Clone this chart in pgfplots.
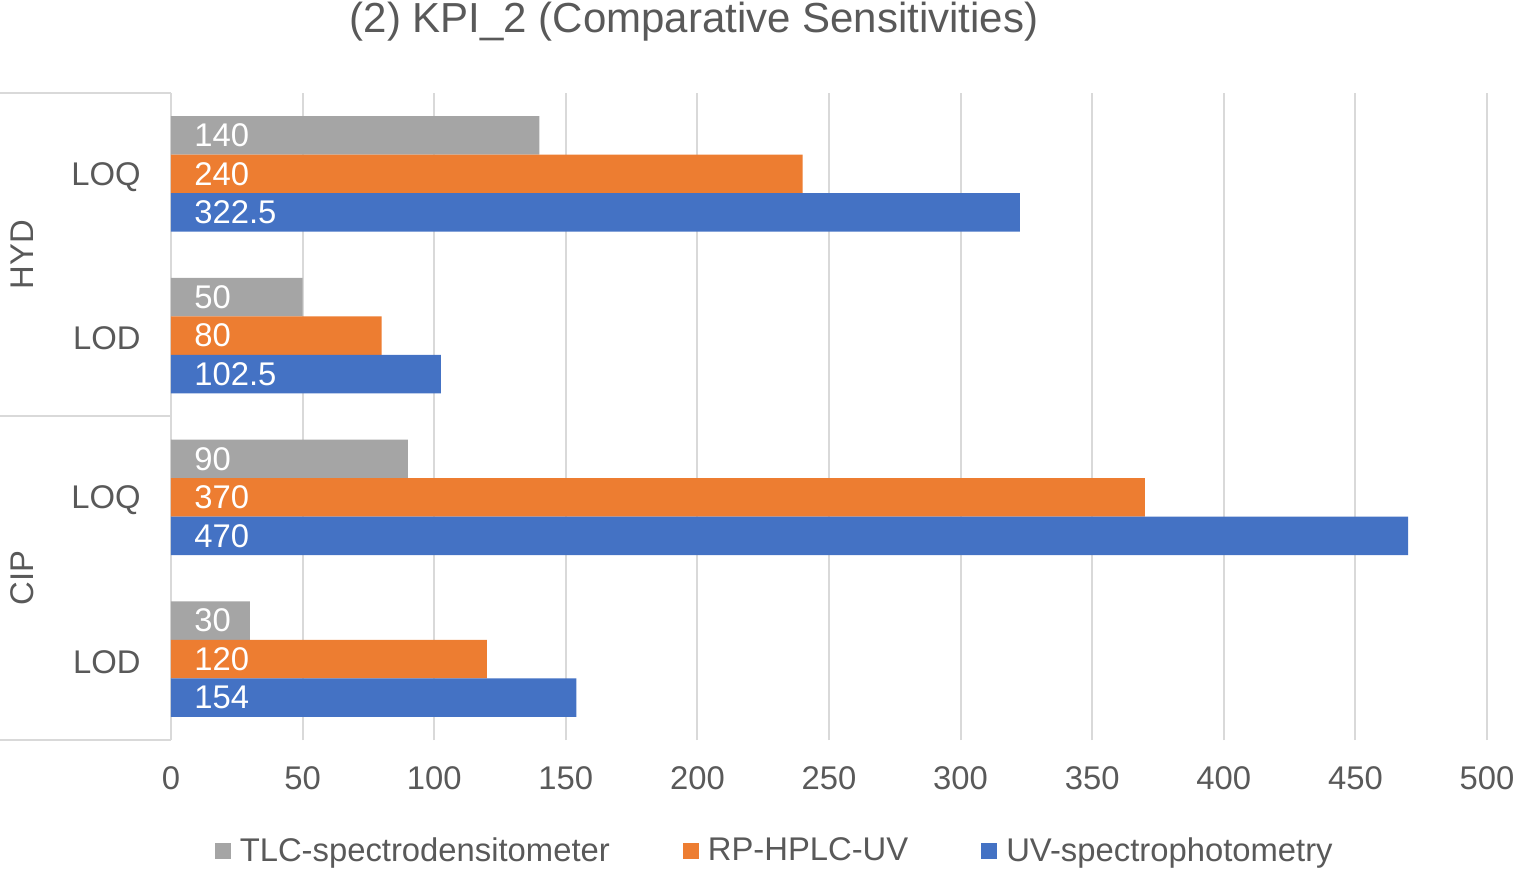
\documentclass[border=0pt]{standalone}
\usepackage{fontspec}
\setmainfont{Liberation Sans}
\usepackage{pgfplots}
\usepackage{pgfplotstable}
\pgfplotsset{compat=1.18}

\definecolor{txt}{HTML}{595959}
\definecolor{gridgray}{HTML}{D9D9D9}
\definecolor{tlc}{HTML}{A5A5A5}
\definecolor{rp}{HTML}{ED7D31}
\definecolor{uv}{HTML}{4472C4}
\newcommand{\fs}{\fontsize{16.4}{19.7}\selectfont}

% y: 3 = HYD LOQ, 2 = HYD LOD, 1 = CIP LOQ, 0 = CIP LOD
\pgfplotstableread{
y tlc rp uv
3 140 240 322.5
2 50 80 102.5
1 90 370 470
0 30 120 154
}\data

\begin{document}
\begin{tikzpicture}
\path[use as bounding box] (-85.5pt,-66.5pt) rectangle (672pt,370pt);
\begin{axis}[
    at={(0,0)}, anchor=south west,
    scale only axis, width=658pt, height=323.5pt,
    xmin=0, xmax=500, ymin=-0.5, ymax=3.5,
    clip=false,
    xtick={0,50,...,500},
    ytick={0,1,2,3}, yticklabels={LOD,LOQ,LOD,LOQ},
    xmajorgrids, grid style={gridgray, line width=1pt},
    axis line style={draw=none},
    major tick length=0pt,
    tick pos=left,
    extra y ticks={-0.5,1.5,3.5}, extra y tick labels={},
    extra y tick style={grid=none, major tick length=85.5pt, tick align=outside,
        major tick style={gridgray, line width=1pt}},
    ticklabel style={font=\fs, text=txt, inner sep=0pt},
    xticklabel style={yshift=-13pt},
    yticklabel style={xshift=-15pt, yshift=-1.5pt},
    /pgf/number format/assume math mode=true,
    xbar, bar width=0.238,
    every node near coord/.append style={font=\fs, text=white, anchor=west, inner sep=0pt, xshift=11.5pt},
    legend columns=-1,
    legend style={at={(0.458,-0.1716)}, anchor=center, draw=none, fill=none,
        font=\fs, text=txt, nodes={inner sep=0pt},
        /tikz/every odd column/.append style={column sep=4.5pt},
        /tikz/every even column/.append style={column sep=36.5pt}},
    legend image code/.code={\fill[#1] (0pt,-4pt) rectangle (8pt,4pt);},
]
\addplot[bar shift=0.238, fill=tlc, draw=none] table[x=tlc, y=y] {\data};
\addlegendentry{TLC-spectrodensitometer}
\addplot[bar shift=0, fill=rp, draw=none] table[x=rp, y=y] {\data};
\addlegendentry{RP-HPLC-UV}
\addplot[bar shift=-0.238, fill=uv, draw=none] table[x=uv, y=y] {\data};
\addlegendentry{UV-spectrophotometry}

% value labels at the bar base
\addplot[forget plot, bar shift=0.238, draw=none, fill=none, point meta=\thisrow{tlc}, nodes near coords] table[x expr=0, y=y] {\data};
\addplot[forget plot, bar shift=0, draw=none, fill=none, point meta=\thisrow{rp}, nodes near coords] table[x expr=0, y=y] {\data};
\addplot[forget plot, bar shift=-0.238, draw=none, fill=none, point meta=\thisrow{uv}, nodes near coords] table[x expr=0, y=y] {\data};

\node[rotate=90, font=\fs, text=txt] at ([xshift=-74.5pt]axis cs:0,2.5) {HYD};
\node[rotate=90, font=\fs, text=txt] at ([xshift=-74.5pt]axis cs:0,0.5) {CIP};
\node[font=\fontsize{21}{25}\selectfont, text=txt] at ([yshift=35.5pt]axis description cs:0.3974,1) {(2) KPI\_2 (Comparative Sensitivities)};
\end{axis}
\end{tikzpicture}
\end{document}
